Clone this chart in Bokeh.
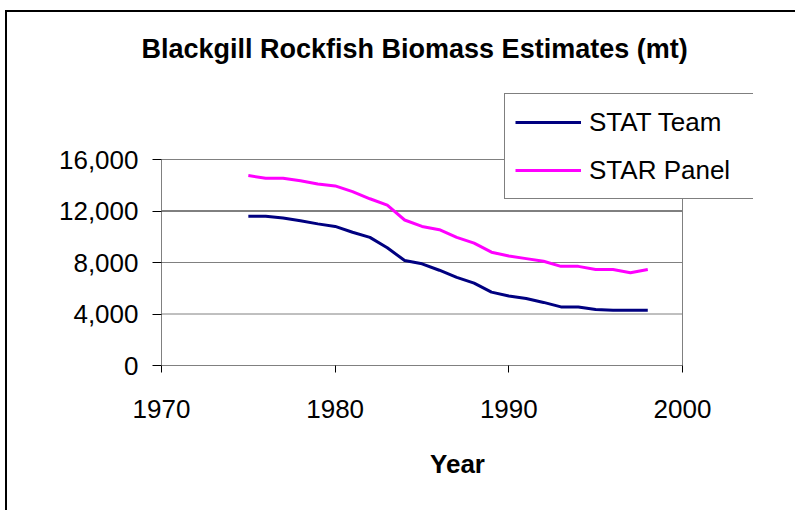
from bokeh.plotting import figure
from bokeh.models import FixedTicker, NumeralTickFormatter, Legend, LegendItem, ColumnDataSource, Range1d
from bokeh.embed import file_html
from bokeh.resources import INLINE

years = list(range(1975, 1999))
stat_team = [11600, 11600, 11450, 11250, 11000, 10800, 10350, 9950, 9150, 8150, 7900, 7400,
             6850, 6400, 5700, 5400, 5200, 4900, 4550, 4550, 4350, 4300, 4300, 4300]
star_panel = [14750, 14550, 14550, 14350, 14100, 13950, 13500, 12950, 12450, 11300, 10800, 10550,
              9950, 9500, 8800, 8500, 8300, 8100, 7700, 7700, 7450, 7450, 7200, 7450]
x_ticks = [1970, 1980, 1990, 2000]
y_ticks = [0, 4000, 8000, 12000, 16000]
title_text = "Blackgill Rockfish Biomass Estimates (mt)"
x_label = "Year"

FONT = "Liberation Sans"

# layout (pixels)
ML, MB, MR, MT = 154, 147, 44, 68
W, H = 790, 500
plot_w, plot_h = 521, 206  # visible plot area
frame_w, frame_h = W - ML - MR, H - MB - MT

x0, x1 = x_ticks[0], x_ticks[-1]
y0, y1 = y_ticks[0], y_ticks[-1]
xr = Range1d(x0, x0 + (x1 - x0) * frame_w / plot_w)
yr = Range1d(y0, y0 + (y1 - y0) * frame_h / plot_h)

p = figure(width=W, height=H, output_backend="svg", toolbar_location=None,
           x_range=xr, y_range=yr, title=title_text,
           min_border_left=ML, min_border_top=MT, min_border_right=MR, min_border_bottom=MB)
p.styles = {"margin-left": "5px", "margin-top": "10px",
            "border-left": "2px solid black", "border-top": "2px solid black"}

p.title.text_font = FONT
p.title.text_font_size = "27px"
p.title.text_font_style = "bold"
p.title.text_color = "black"
p.title.align = "left"
p.title.offset = -20
p.title.standoff = 33

p.background_fill_color = "white"
p.border_fill_color = "white"
p.outline_line_color = None

# gridlines and plot-area box
grid_colors = ["#808080", "#808080", "#808080", "#000000", "#808080"]
p.segment(x0=[x0] * len(y_ticks), x1=[x1] * len(y_ticks), y0=y_ticks, y1=y_ticks,
          line_color=grid_colors, line_width=1)
p.quad(left=[x0], right=[x1], bottom=[y0], top=[y1], fill_color=None,
       line_color="#808080", line_width=1)

src = ColumnDataSource(dict(year=years, stat=stat_team, star=star_panel))
r1 = p.line("year", "stat", source=src, line_color="#000080", line_width=3)
r2 = p.line("year", "star", source=src, line_color="#FF00FF", line_width=3)

# axes
p.xaxis.ticker = FixedTicker(ticks=x_ticks)
p.yaxis.ticker = FixedTicker(ticks=y_ticks)
p.yaxis.formatter = NumeralTickFormatter(format="0,0")
p.xaxis.bounds = (x0, x1)
p.yaxis.bounds = (y0, y1)
for ax in (p.xaxis[0], p.yaxis[0]):
    ax.major_label_text_font = FONT
    ax.major_label_text_font_size = "26px"
    ax.major_label_text_color = "black"
    ax.axis_line_color = "#808080"
    ax.axis_line_width = 1
    ax.major_tick_line_color = "black"
    ax.minor_tick_line_color = None
    ax.major_tick_in = 0
p.xaxis.major_tick_out = 7
p.yaxis.major_tick_out = 9
p.xaxis.major_label_standoff = 27
p.yaxis.major_label_standoff = 14
p.xaxis.axis_label = x_label
p.xaxis.axis_label_text_font = FONT
p.xaxis.axis_label_text_font_size = "26px"
p.xaxis.axis_label_text_font_style = "bold"
p.xaxis.axis_label_text_color = "black"
p.xaxis.axis_label_standoff = 28

p.xgrid.grid_line_color = None
p.ygrid.grid_line_color = None

legend = Legend(items=[LegendItem(label="STAT Team", renderers=[r1]),
                       LegendItem(label="STAR Panel", renderers=[r2])],
                location=(343, 166), orientation="vertical")
legend.label_text_font = FONT
legend.label_text_font_size = "26px"
legend.label_text_color = "black"
legend.padding = 10
legend.spacing = 12
legend.glyph_width = 66
legend.glyph_height = 36
legend.label_height = 36
legend.label_width = 154
legend.label_standoff = 8
legend.border_line_color = "black"
legend.border_line_width = 1
legend.background_fill_color = "white"
legend.background_fill_alpha = 1
legend.margin = 0
p.add_layout(legend, "center")

open("out.html", "w").write(file_html(p, INLINE))
